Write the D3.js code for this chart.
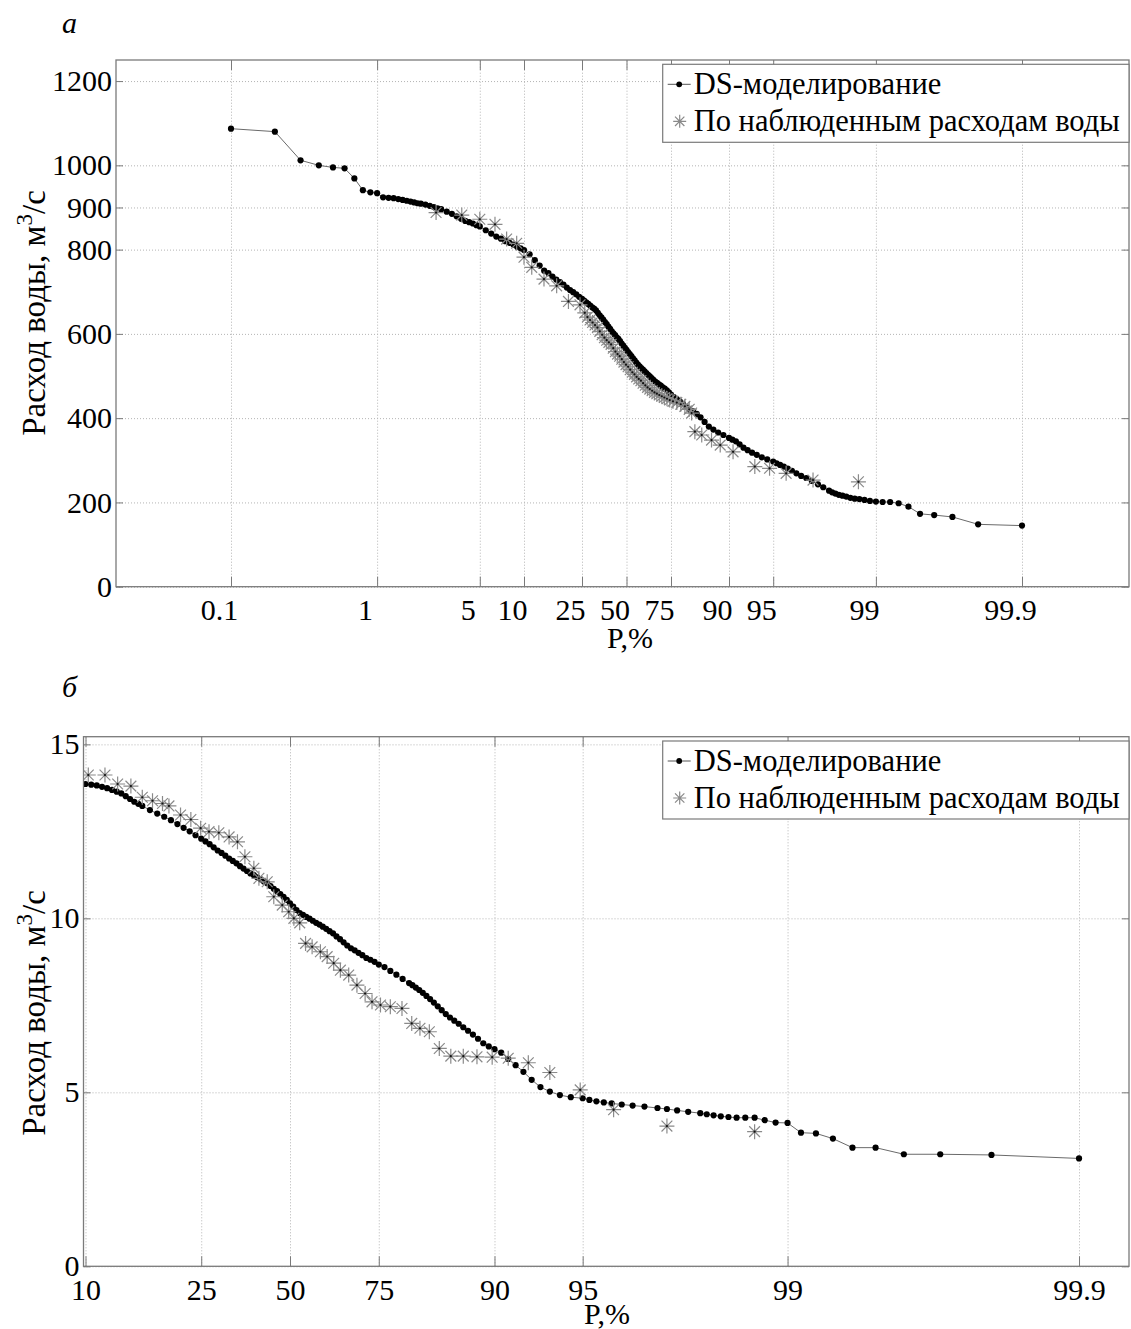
<!DOCTYPE html>
<html>
<head>
<meta charset="utf-8">
<script src="https://cdn.jsdelivr.net/npm/d3@7"></script>
<style>
  body { margin: 0; background: #fff; }
  svg text { font-family: "Liberation Serif", "Times New Roman", serif; }
</style>
</head>
<body>
<svg id="chart" width="1131" height="1329" font-family="Liberation Serif, Times New Roman, serif"></svg>
<script>
// ---- data: [P, %; Q, m3/s] ----
const probTicksTop = [0.1, 1, 5, 10, 25, 50, 75, 90, 95, 99, 99.9];
const probTicksBottom = [10, 25, 50, 75, 90, 95, 99, 99.9];
const qTicksTop = [0, 200, 400, 600, 800, 900, 1000, 1200];
const qTicksBottom = [0, 5, 10, 15];
const legendLabels = ["DS-моделирование", "По наблюденным расходам воды"];

const dsTop = [
  [0.1, 1087], [0.2, 1080], [0.3, 1012], [0.4, 1000], [0.5, 995], [0.6, 993], [0.7, 969], [0.8, 941], [0.9, 936], [1.0, 934],
  [1.1, 924], [1.2, 923], [1.3, 922], [1.4, 920], [1.5, 918], [1.6, 916], [1.7, 914], [1.8, 912], [1.9, 910], [2.0, 909],
  [2.15, 907], [2.3, 904], [2.45, 901], [2.6, 898], [2.75, 896], [3.0, 890], [3.25, 885], [3.5, 879], [3.75, 873], [4.0, 868],
  [4.25, 865], [4.5, 862], [4.75, 858], [5.0, 855], [5.5, 846], [6.0, 838], [6.5, 831], [7.0, 826], [7.5, 820], [8.0, 816],
  [8.5, 812], [9.0, 807], [9.5, 803], [10, 799], [11, 789], [12, 775], [13, 762], [14, 750], [15, 744], [16, 736],
  [17, 729], [18, 723], [19, 717], [20, 710], [21, 704], [22, 699], [23, 694], [24, 688], [25, 683], [26, 679],
  [27, 675], [28, 671], [29, 667], [30, 663], [31, 660], [32, 656], [33, 650], [34, 644], [35, 639], [36, 634],
  [37, 628], [38, 623], [39, 617], [40, 612], [41, 606], [42, 601], [43, 597], [44, 592], [45, 588], [46, 583],
  [47, 577], [48, 572], [49, 567], [50, 562], [51, 557], [52, 552], [53, 547], [54, 542], [55, 537], [56, 532],
  [57, 527], [58, 523], [59, 519], [60, 515], [61, 511], [62, 507], [63, 503], [64, 499], [65, 495], [66, 491],
  [67, 487], [68, 484], [69, 480], [70, 477], [71, 473], [72, 470], [73, 466], [74, 461], [75, 456], [76, 450],
  [77, 445], [78, 440], [79, 434], [80, 427], [81, 420], [82, 416], [83, 410], [84, 402], [85, 391], [86, 380],
  [87, 373], [88, 366], [89, 360], [90, 353], [90.5, 349], [91, 345], [91.5, 338], [92, 330], [92.5, 324], [93, 318],
  [93.5, 313], [94, 307], [94.5, 302], [95, 297], [95.25, 293], [95.5, 289], [95.75, 285], [96, 280], [96.25, 275], [96.5, 269],
  [96.75, 263], [97, 258], [97.25, 251], [97.5, 243], [97.7, 236], [97.9, 228], [98.0, 224], [98.1, 221], [98.2, 218], [98.3, 216],
  [98.4, 214], [98.5, 211], [98.6, 209], [98.7, 208], [98.8, 206], [98.9, 203.5], [99.0, 202], [99.1, 201], [99.2, 201], [99.3, 198],
  [99.4, 190], [99.5, 173], [99.6, 170], [99.7, 165.5], [99.8, 148], [99.9, 145]
];

const obsTop = [
  [2.54, 888], [3.79, 882], [5.0, 872], [6.37, 860], [7.65, 825], [8.94, 815], [10.0, 782], [11.4, 758], [13.96, 730], [17.1, 714],
  [20.5, 677], [24.3, 669], [26.3, 650], [27.6, 640], [28.9, 633], [30.2, 627], [31.5, 621], [32.8, 615], [34.1, 606], [35.4, 598],
  [36.7, 591], [38.0, 585], [39.3, 580], [40.6, 575], [41.9, 566], [43.2, 558], [44.5, 552], [45.8, 547], [47.1, 540], [48.4, 533],
  [49.7, 527], [51.0, 522], [52.3, 515], [53.6, 509], [54.9, 504], [56.2, 498], [57.5, 493], [58.8, 489], [60.1, 483], [61.4, 478],
  [62.7, 473], [64.0, 469], [65.3, 465], [66.6, 461], [67.9, 458], [69.2, 455], [70.5, 452], [71.8, 449], [73.1, 446], [74.4, 443],
  [75.7, 440], [77.0, 437], [78.3, 433], [79.6, 428], [80.9, 421], [81.6, 412], [82.5, 368], [84.3, 360], [86.6, 348], [88.4, 336],
  [90.6, 320], [93.3, 285], [94.7, 281], [95.9, 269], [97.3, 253], [98.68, 249]
];

const dsBottom = [
  [10.0, 13.86], [10.5, 13.84], [11.0, 13.82], [11.5, 13.78], [12.0, 13.74], [12.5, 13.69], [13.0, 13.64], [13.5, 13.59], [14.0, 13.51], [14.5, 13.43],
  [15.0, 13.35], [15.5, 13.29], [16, 13.23], [17, 13.11], [18, 13.01], [19, 12.92], [20, 12.82], [21, 12.71], [22, 12.60], [23, 12.50],
  [24, 12.39], [25, 12.29], [26, 12.21], [27, 12.13], [28, 12.04], [29, 11.95], [30, 11.88], [31, 11.80], [32, 11.72], [33, 11.65],
  [34, 11.58], [35, 11.50], [36, 11.43], [37, 11.36], [38, 11.29], [39, 11.24], [40, 11.18], [41, 11.12], [42, 11.06], [43, 11.01],
  [44, 10.93], [45, 10.85], [46, 10.78], [47, 10.70], [48, 10.62], [49, 10.53], [50, 10.43], [51, 10.34], [52, 10.24], [53, 10.15],
  [54, 10.10], [55, 10.04], [56, 9.99], [57, 9.93], [58, 9.87], [59, 9.82], [60, 9.76], [61, 9.70], [62, 9.63], [63, 9.57],
  [64, 9.48], [65, 9.40], [66, 9.31], [67, 9.22], [68, 9.14], [69, 9.08], [70, 9.01], [71, 8.94], [72, 8.86], [73, 8.81],
  [74, 8.75], [75, 8.67], [76, 8.60], [77, 8.49], [78, 8.38], [79, 8.26], [80, 8.14], [80.5, 8.08], [81, 8.01], [81.5, 7.94],
  [82, 7.86], [82.5, 7.77], [83, 7.68], [83.5, 7.58], [84, 7.47], [84.5, 7.36], [85, 7.25], [85.5, 7.15], [86, 7.06], [86.5, 6.97],
  [87, 6.87], [87.5, 6.77], [88, 6.66], [88.5, 6.54], [89, 6.41], [89.5, 6.32], [90, 6.24], [90.5, 6.14], [91, 5.96], [91.5, 5.78],
  [92, 5.59], [92.5, 5.36], [93, 5.15], [93.5, 5.02], [94, 4.92], [94.5, 4.86], [95, 4.83], [95.25, 4.78], [95.5, 4.74], [95.75, 4.71],
  [96, 4.68], [96.3, 4.65], [96.6, 4.62], [96.9, 4.59], [97.2, 4.55], [97.4, 4.52], [97.6, 4.48], [97.8, 4.44], [98.0, 4.40], [98.1, 4.37],
  [98.2, 4.34], [98.3, 4.31], [98.4, 4.29], [98.5, 4.27], [98.6, 4.27], [98.7, 4.27], [98.8, 4.20], [98.9, 4.13], [99.0, 4.12], [99.1, 3.84],
  [99.2, 3.82], [99.3, 3.67], [99.4, 3.41], [99.5, 3.41], [99.6, 3.22], [99.7, 3.22], [99.8, 3.20], [99.9, 3.10]
];

const obsBottom = [
  [10.24, 14.12], [11.79, 14.12], [13.1, 13.86], [14.6, 13.80], [16.0, 13.48], [17.35, 13.38], [18.75, 13.30], [19.7, 13.23], [21.5, 12.97], [23.2, 12.84],
  [24.9, 12.59], [26.85, 12.49], [29.3, 12.46], [32.0, 12.34], [34.3, 12.20], [36.4, 11.77], [39.0, 11.44], [40.5, 11.15], [43.0, 11.05], [45.0, 10.62],
  [47.6, 10.38], [49.6, 10.19], [51.2, 10.00], [53.0, 9.87], [54.8, 9.28], [56.8, 9.18], [59.3, 9.04], [61.3, 8.90], [63.2, 8.71], [65.1, 8.51],
  [67.4, 8.37], [69.6, 8.08], [71.7, 7.84], [73.4, 7.60], [75.3, 7.51], [77.0, 7.46], [78.9, 7.41], [80.4, 6.98], [81.6, 6.84], [82.9, 6.74],
  [84.2, 6.26], [85.6, 6.04], [87.0, 6.04], [88.4, 6.02], [89.8, 6.01], [91.0, 5.98], [92.3, 5.85], [93.5, 5.57], [94.9, 5.07], [96.06, 4.50],
  [97.4, 4.03], [98.7, 3.87]
];

// probability paper: distance of each probability line from the 50% line (in paper units)
const paperP = [0.1, 1, 5, 10, 25, 50, 75, 90, 95, 99, 99.9];
const paperU = [-3.955, -2.494, -1.467, -1.025, -0.445, 0, 0.445, 1.025, 1.467, 2.494, 3.955];
const logit = (p) => Math.log(p / (100 - p));

function probScale(center, unit) {
  return d3.scaleLinear()
    .domain(paperP.map(logit))
    .range(paperU.map((u) => center + unit * u));
}

const svg = d3.select("#chart");
const FONT = 30;
const SERIF = "Liberation Serif, Times New Roman, serif";

const panels = [
  { letter: "а", letterY: 33, left: 116, top: 60, right: 1129, bottom: 586.7, center: 626.5, unit: 100, qMax: 1250,
    pTicks: probTicksTop, qTicks: qTicksTop, labelDx: -12, pLabelX: 630, pLabelY: 648, yLabelY: 313,
    ds: dsTop, obs: obsTop },
  { letter: "б", letterY: 697, left: 83.5, top: 736.7, right: 1129, bottom: 1266.3, center: 290, unit: 199.5, qMax: 15.22,
    pTicks: probTicksBottom, qTicks: qTicksBottom, labelDx: 0, pLabelX: 607, pLabelY: 1324, yLabelY: 1013,
    ds: dsBottom, obs: obsBottom }
];

function asterisk(r) {
  const d = r * 0.72;
  return `M${-r},0H${r}M0,${-r}V${r}M${-d},${-d}L${d},${d}M${-d},${d}L${d},${-d}`;
}

panels.forEach(function (cfg, idx) {
  const { left, top, right, bottom } = cfg;
  const x = probScale(cfg.center, cfg.unit);
  const y = d3.scaleLinear().domain([0, cfg.qMax]).range([bottom, top]);
  const px = (d) => x(logit(d[0]));
  const py = (d) => y(d[1]);
  const g = svg.append("g");

  g.append("defs").append("clipPath").attr("id", "clip" + idx)
    .append("rect").attr("x", left).attr("y", top)
    .attr("width", right - left).attr("height", bottom - top);

  // gridlines
  const grid = g.append("g").attr("class", "grid");
  grid.append("g").attr("transform", `translate(0,${bottom})`)
    .call(d3.axisBottom(x).tickValues(cfg.pTicks.map(logit)).tickSize(-(bottom - top)).tickFormat(""));
  grid.append("g").attr("transform", `translate(${left},0)`)
    .call(d3.axisLeft(y).tickValues(cfg.qTicks).tickSize(-(right - left)).tickFormat(""));
  grid.selectAll(".domain").remove();
  grid.selectAll("line").attr("stroke", "#b4b4b4").attr("stroke-dasharray", "1,2");

  // data
  const plot = g.append("g").attr("clip-path", `url(#clip${idx})`);
  const line = d3.line().x(px).y(py);

  plot.append("path").datum(cfg.ds).attr("d", line)
    .attr("fill", "none").attr("stroke", "#6a6a6a").attr("stroke-width", 1);
  plot.append("g").selectAll("circle").data(cfg.ds).enter().append("circle")
    .attr("cx", px).attr("cy", py).attr("r", 3.1).attr("fill", "#000");

  plot.append("g").selectAll("path").data(cfg.obs).enter().append("path")
    .attr("transform", (d) => `translate(${px(d)},${py(d)})`)
    .attr("d", asterisk(7.5)).attr("fill", "none")
    .attr("stroke", "#8a8a8a").attr("stroke-width", 1.2);
  plot.append("g").selectAll("circle").data(cfg.obs).enter().append("circle")
    .attr("cx", px).attr("cy", py).attr("r", 1.1).attr("fill", "#111");

  // axes
  const tickVals = cfg.pTicks.map(logit);
  const xAxis = g.append("g").attr("transform", `translate(0,${bottom})`)
    .call(d3.axisBottom(x).tickValues(tickVals).tickSize(-10).tickPadding(12)
      .tickFormat((d, i) => cfg.pTicks[i]));
  const xTopAxis = g.append("g").attr("transform", `translate(0,${top})`)
    .call(d3.axisTop(x).tickValues(tickVals).tickSize(-10).tickFormat(""));
  const yAxis = g.append("g").attr("transform", `translate(${left},0)`)
    .call(d3.axisLeft(y).tickValues(cfg.qTicks).tickSize(-7).tickPadding(4).tickFormat((d) => String(d)));
  const yRight = g.append("g").attr("transform", `translate(${right},0)`)
    .call(d3.axisRight(y).tickValues(cfg.qTicks).tickSize(-7).tickFormat(""));

  [xAxis, xTopAxis, yAxis, yRight].forEach(function (a) {
    a.attr("font-size", FONT).attr("font-family", SERIF).attr("color", "#7a7a7a");
    a.select(".domain").remove();
    a.selectAll("text").attr("fill", "#000");
  });
  xAxis.selectAll("text").attr("dx", cfg.labelDx);

  g.append("rect").attr("x", left).attr("y", top)
    .attr("width", right - left).attr("height", bottom - top)
    .attr("fill", "none").attr("stroke", "#7a7a7a").attr("stroke-width", 1.3);

  // labels
  g.append("text").attr("x", 62).attr("y", cfg.letterY)
    .attr("font-size", FONT).attr("font-style", "italic").text(cfg.letter);

  g.append("text").attr("x", cfg.pLabelX).attr("y", cfg.pLabelY)
    .attr("text-anchor", "middle").attr("font-size", FONT).text("P,%");

  const yl = g.append("text")
    .attr("transform", `translate(45,${cfg.yLabelY}) rotate(-90)`)
    .attr("text-anchor", "middle").attr("font-size", 33);
  yl.append("tspan").text("Расход воды, м");
  yl.append("tspan").attr("font-size", 23).attr("dy", -13).text("3");
  yl.append("tspan").attr("dy", 13).text("/с");

  // legend
  const lg = g.append("g").attr("transform", `translate(${right - 466.3},${top + 4.3})`);
  lg.append("rect").attr("width", 466.3).attr("height", 78)
    .attr("fill", "#fff").attr("stroke", "#7a7a7a").attr("stroke-width", 1.2);
  lg.append("line").attr("x1", 5).attr("x2", 28).attr("y1", 20).attr("y2", 20)
    .attr("stroke", "#555").attr("stroke-width", 1);
  lg.append("circle").attr("cx", 16.5).attr("cy", 20).attr("r", 2.9).attr("fill", "#000");
  lg.append("path").attr("transform", "translate(17,57)").attr("d", asterisk(6.5))
    .attr("fill", "none").attr("stroke", "#8a8a8a").attr("stroke-width", 1.2);
  lg.selectAll("text.lab").data(legendLabels).enter().append("text")
    .attr("class", "lab").attr("x", 31).attr("y", (d, i) => 30 + i * 37)
    .attr("font-size", 30.5).text((d) => d);
});
</script>
</body>
</html>
